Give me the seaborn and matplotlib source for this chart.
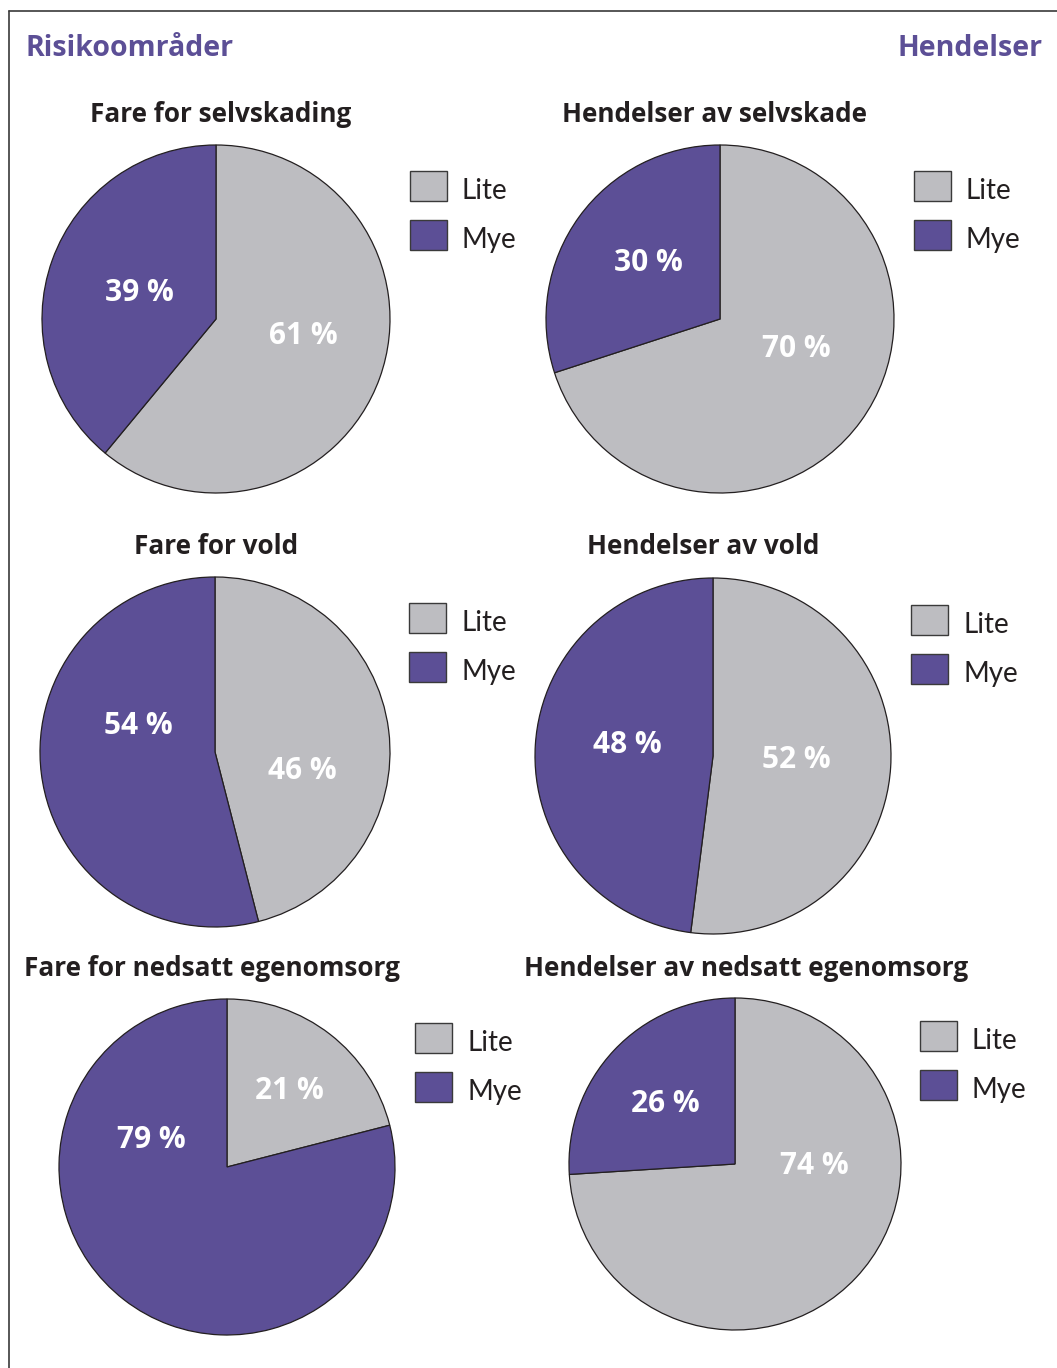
import matplotlib
matplotlib.use("Agg")
import matplotlib.pyplot as plt
import seaborn as sns
from matplotlib.patches import Rectangle
from matplotlib.lines import Line2D

W, H = 1057, 1368

sns.set_theme(style="white")
plt.rcParams["font.family"] = ["Lato", "DejaVu Sans"]
BOLD_FAMILY = ["Open Sans", "DejaVu Sans"]

# ---- data -------------------------------------------------------------
titles = [
    "Fare for selvskading", "Hendelser av selvskade",
    "Fare for vold", "Hendelser av vold",
    "Fare for nedsatt egenomsorg", "Hendelser av nedsatt egenomsorg",
]
categories = ["Lite", "Mye"]
lite = [61, 70, 46, 52, 21, 74]
mye = [39, 30, 54, 48, 79, 26]
column_headers = ["Risikoområder", "Hendelser"]

# ---- style ------------------------------------------------------------
palette = sns.color_palette(["#BDBDC1", "#5C4F96"])
purple = "#5C4F96"
ink = "#231F20"

# layout in pixels: pie centre x, centre y, radius
pie_geom = [
    (216, 319, 174), (720, 319, 174),
    (215, 752, 175), (713, 756, 178),
    (227, 1167, 168), (735, 1164, 166),
]
title_pos = [(221, 114), (714, 114), (216, 546), (703, 547), (212, 969), (746, 969)]
legend_pos = [(410, 171), (914, 171), (409, 603), (911, 605), (415, 1023), (920, 1021)]
# percentage label positions, in units of the pie radius (Lite, Mye)
label_pos = [
    [(0.50, -0.10), (-0.44, 0.15)],
    [(0.44, -0.17), (-0.41, 0.32)],
    [(0.50, -0.11), (-0.44, 0.15)],
    [(0.47, -0.02), (-0.48, 0.06)],
    [(0.37, 0.45), (-0.45, 0.16)],
    [(0.48, -0.01), (-0.42, 0.36)],
]

fig = plt.figure(figsize=(W / 100, H / 100), dpi=100)
fig.patch.set_facecolor("white")


def fx(px):
    return px / W


def fy(py):
    return 1 - py / H


# outer frame (left and top rules)
fig.add_artist(Line2D([fx(8.5), fx(8.5)], [fy(10.5), 0], color="#3a3a3a", lw=1.2,
                      transform=fig.transFigure))
fig.add_artist(Line2D([fx(8.5), 1], [fy(10.5), fy(10.5)], color="#3a3a3a", lw=1.2,
                      transform=fig.transFigure))

fig.text(fx(25), fy(48), column_headers[0], color=purple, fontsize=20.5,
         fontweight="bold", family=BOLD_FAMILY, ha="left", va="center")
fig.text(fx(1043), fy(48), column_headers[1], color=purple, fontsize=20.5,
         fontweight="bold", family=BOLD_FAMILY, ha="right", va="center")

for i, title in enumerate(titles):
    cx, cy, r = pie_geom[i]
    ax = fig.add_axes([fx(cx - r), fy(cy + r), 2 * r / W, 2 * r / H])
    wedges, _, autotexts = ax.pie(
        [lite[i], mye[i]],
        colors=palette,
        startangle=90,
        counterclock=False,
        autopct=lambda p: f"{p:.0f} %",
        pctdistance=0.5,
        wedgeprops=dict(edgecolor=ink, linewidth=0.9),
        textprops=dict(color="white", fontweight="bold", fontsize=21.5,
                       family=BOLD_FAMILY),
    )
    for w in wedges:
        w.set_clip_on(False)
    for t, (lx, ly) in zip(autotexts, label_pos[i]):
        t.set_position((lx, ly))
        t.set_ha("center")
        t.set_va("center")
    ax.set_xlim(-1, 1)
    ax.set_ylim(-1, 1)
    ax.set_aspect("equal")
    ax.axis("off")

    tx, ty = title_pos[i]
    fig.text(fx(tx), fy(ty), title, color=ink, fontsize=18.8, fontweight="bold",
             family=BOLD_FAMILY, ha="center", va="center")

    # legend swatches
    lx0, ly0 = legend_pos[i]
    for k, (cat, col) in enumerate(zip(categories, palette)):
        top = ly0 + k * 49
        fig.add_artist(Rectangle((fx(lx0), fy(top + 30)), 37 / W, 30 / H,
                                 facecolor=col, edgecolor="#3a3a3a", lw=1.0,
                                 transform=fig.transFigure))
        fig.text(fx(lx0 + 52), fy(top + 20), cat, color=ink, fontsize=20,
                 ha="left", va="center")

fig.savefig("out.png", dpi=100, facecolor="white")
